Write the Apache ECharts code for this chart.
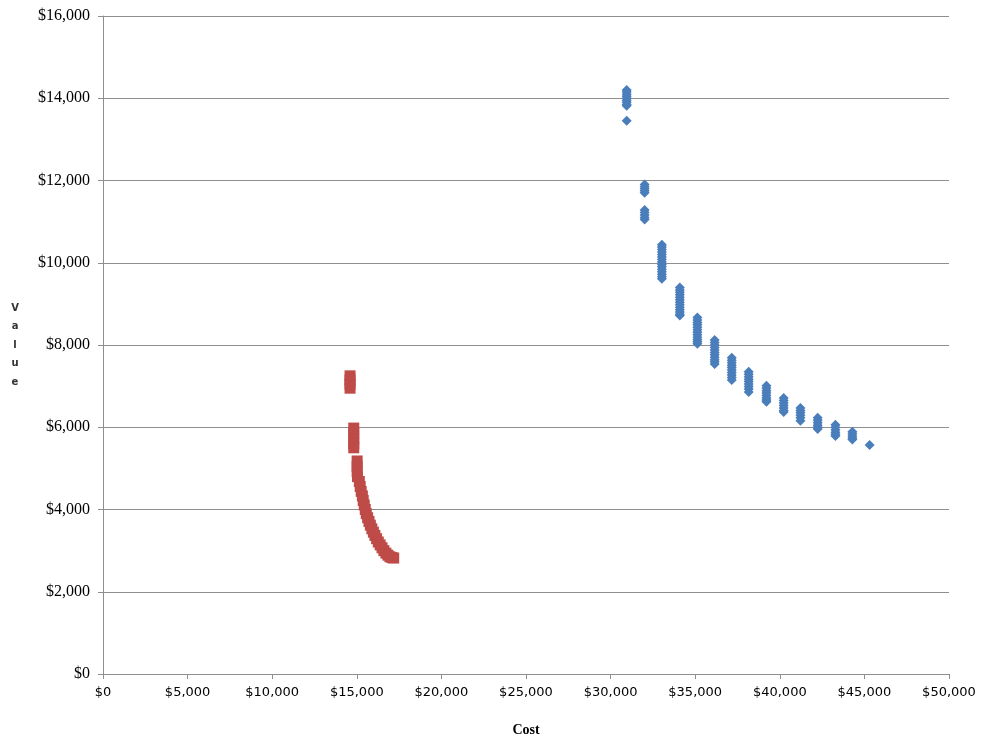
<!DOCTYPE html>
<html>
<head>
<meta charset="utf-8">
<script src="https://cdn.jsdelivr.net/npm/echarts@6/dist/echarts.min.js"></script>
<style>
  html, body { margin: 0; padding: 0; background: #ffffff; }
  #chart { width: 982px; height: 739px; }
</style>
</head>
<body>
<div id="chart"></div>
<script>
// Blue series: one cost per column, several values stacked at each cost
const blueCosts = [30950, 32010, 33030, 34090, 35130, 36150, 37160, 38160, 39210, 40230, 41220, 42240, 43290, 44290, 45310];
const blueValues = [
  [14200, 14150, 14100, 14050, 14000, 13950, 13900, 13850, 13820, 13450],
  [11900, 11850, 11800, 11750, 11700, 11280, 11220, 11160, 11100, 11050],
  [10440, 10380, 10320, 10260, 10200, 10140, 10080, 10020, 9960, 9900, 9840, 9780, 9720, 9660, 9610],
  [9400, 9340, 9280, 9220, 9160, 9100, 9040, 8980, 8920, 8860, 8800, 8750, 8720],
  [8670, 8610, 8550, 8490, 8430, 8370, 8310, 8250, 8190, 8130, 8080, 8030],
  [8120, 8060, 8000, 7940, 7880, 7820, 7760, 7700, 7640, 7590, 7540],
  [7690, 7630, 7570, 7510, 7450, 7390, 7330, 7270, 7210, 7150],
  [7350, 7290, 7230, 7170, 7110, 7050, 6990, 6930, 6860],
  [7010, 6950, 6890, 6830, 6770, 6710, 6660, 6620],
  [6710, 6650, 6590, 6530, 6470, 6410, 6370],
  [6470, 6410, 6350, 6290, 6230, 6160],
  [6230, 6170, 6110, 6050, 6000, 5960],
  [6060, 6000, 5940, 5880, 5830, 5790],
  [5890, 5840, 5790, 5740, 5700],
  [5570]
];

// Red series: cost / value pairs along the lower curve
const redCosts = [14600, 14600, 14600, 14600, 14820, 14820, 14820, 14820, 14820,
  15020, 15020, 15020, 15040, 15150, 15200, 15260, 15330, 15380, 15440, 15500,
  15560, 15640, 15720, 15800, 15890, 15980, 16070, 16170, 16270, 16380, 16490,
  16600, 16720, 16840, 16960, 17080, 17180];
const redValues = [7250, 7150, 7050, 6950, 5980, 5850, 5720, 5600, 5500,
  5180, 5050, 4920, 4800, 4680, 4560, 4440, 4330, 4220, 4110, 4000,
  3900, 3800, 3710, 3620, 3530, 3450, 3370, 3290, 3210, 3140, 3070,
  3000, 2940, 2890, 2850, 2830, 2820];

// Axis ranges and tick steps
const xMax = 50000, xStep = 5000;
const yMax = 16000, yStep = 2000;

const blueData = [];
blueCosts.forEach((c, i) => blueValues[i].forEach(v => blueData.push([c, v])));
const redData = redCosts.map((c, i) => [c, redValues[i]]);

const money = v => '$' + v.toLocaleString('en-US');
const gridGrey = '#8e8e8e';

const chart = echarts.init(document.getElementById('chart'), null, { renderer: 'canvas' });
chart.setOption({
  animation: false,
  backgroundColor: '#ffffff',
  grid: { left: 103, right: 33, top: 16, bottom: 65, containLabel: false, outerBoundsMode: 'none' },
  xAxis: {
    type: 'value',
    min: 0, max: xMax, interval: xStep,
    name: 'Cost',
    nameLocation: 'middle',
    nameGap: 49,
    nameTextStyle: { fontFamily: 'Liberation Serif', fontWeight: 'bold', fontSize: 14, color: '#000' },
    axisLine: { show: true, lineStyle: { color: gridGrey, width: 1 } },
    axisTick: { show: true, inside: false, length: 5, lineStyle: { color: gridGrey } },
    axisLabel: { margin: 12, fontFamily: 'DejaVu Sans', fontSize: 13, color: '#000', formatter: money },
    splitLine: { show: false }
  },
  yAxis: {
    type: 'value',
    min: 0, max: yMax, interval: yStep,
    name: 'V\na\nl\nu\ne',
    nameLocation: 'middle',
    nameRotate: 0,
    nameGap: 88,
    nameTextStyle: { fontFamily: 'DejaVu Sans', fontWeight: 'bold', fontSize: 10, lineHeight: 18.5, color: '#333', align: 'center' },
    axisLine: { show: true, lineStyle: { color: gridGrey, width: 1 } },
    axisTick: { show: true, inside: false, length: 5, lineStyle: { color: gridGrey } },
    axisLabel: { margin: 13, fontFamily: 'Liberation Serif', fontSize: 16, color: '#000', formatter: money },
    splitLine: { show: true, lineStyle: { color: gridGrey, width: 1 } }
  },
  series: [
    {
      name: 'Blue', type: 'scatter', data: blueData,
      symbol: 'diamond', symbolSize: 10,
      itemStyle: { color: '#4a7ebb', opacity: 1 }
    },
    {
      name: 'Red', type: 'scatter', data: redData,
      symbol: 'rect', symbolSize: 11,
      itemStyle: { color: '#be4b48', opacity: 1 }
    }
  ]
});
</script>
</body>
</html>
